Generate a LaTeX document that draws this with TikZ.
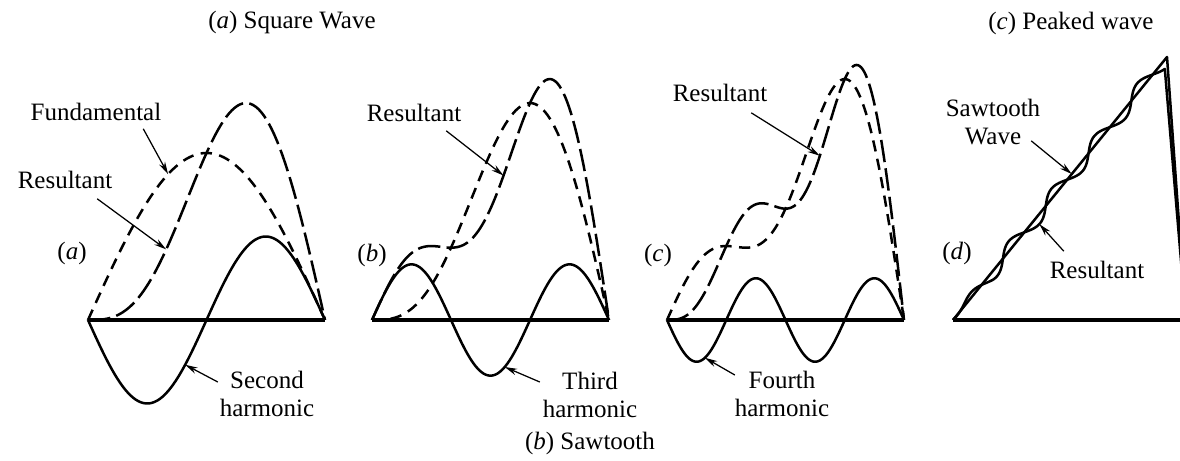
\documentclass[tikz,border=0pt]{standalone}
\usepackage{fontspec}
\setmainfont{Liberation Serif}
\usetikzlibrary{arrows.meta}

\tikzset{
  wave/.style={line width=1pt, line join=round},
  harmonic/.style={wave},
  partwave/.style={wave, dash pattern=on 4.5pt off 3pt},
  sumwave/.style={wave, dash pattern=on 9pt off 2.5pt},
  axisline/.style={line width=1.3pt},
  pointer/.style={line width=0.5pt, -{Stealth[length=5pt,width=2.6pt]}},
  lbl/.style={inner sep=1pt, font=\fontsize{10}{11.2}\selectfont, align=center},
}
\newcommand{\pw}{1.3167}   % px per degree (237 px = 180 deg)
\newcommand{\amp}{167}     % height of the fundamental
\newcommand{\sawwig}{(6.5*min(1,6*\x)*sin(1800*\x-60))}

\begin{document}
\begin{tikzpicture}[x=0.4pt,y=0.4pt]
\clip (0,0) rectangle (1180,460);

% --- titles ---
\node[lbl] (ttlA) at (292,438) {(\textit{a}) Square Wave};
\node[lbl] (ttlC) at (1071,437) {(\textit{c}) Peaked wave};
\node[lbl] (ttlB) at (590,17) {(\textit{b}) Sawtooth};

% --- panel (a): fundamental + second harmonic ---
\begin{scope}[shift={(88,140)}]
  \draw[axisline] (0,0) -- (237,0);
  \draw[harmonic] plot[domain=0:180,samples=90] ({\x*\pw},{-\amp/2*sin(2*\x)});
  \draw[partwave] plot[domain=0:180,samples=90] ({\x*\pw},{\amp*sin(\x)});
  \draw[sumwave] plot[domain=0:180,samples=90] ({\x*\pw},{\amp*(sin(\x)-sin(2*\x)/2)});
  \coordinate (tipFund) at ({0.338*237},{\amp*sin(0.338*180)});
  \coordinate (tipResA) at ({0.33*237},{\amp*(sin(0.33*180)-sin(0.66*180)/2)});
  \coordinate (tipSec) at ({0.41*237},{-\amp/2*sin(0.41*360)});
\end{scope}
\node[lbl] (fund) at (96,348) {Fundamental};
\node[lbl] (resA) at (65,280) {Resultant};
\node[lbl] (tagA) at (72,207) {(\textit{a})};
\node[lbl] (second) at (267,66) {Second\\harmonic};
\draw[pointer] ([shift={(-21,-5)}]fund.south east) -- (tipFund);
\draw[pointer] ([shift={(-18,-7)}]resA.south east) -- (tipResA);
\draw[pointer] ([shift={(1,12)}]second.west) -- (tipSec);

% --- panel (b): third harmonic ---
\begin{scope}[shift={(372,140)}]
  \draw[axisline] (0,0) -- (237,0);
  \draw[harmonic] plot[domain=0:180,samples=120] ({\x*\pw},{\amp/3*sin(3*\x)});
  \draw[partwave] plot[domain=0:180,samples=120] ({\x*\pw},{\amp*(sin(\x)-sin(2*\x)/2)});
  \draw[sumwave] plot[domain=0:180,samples=120] ({\x*\pw},{\amp*(sin(\x)-sin(2*\x)/2+sin(3*\x)/3)});
  \coordinate (tipResB) at ({0.555*237},{\amp*(sin(0.555*180)-sin(0.555*360)/2+sin(0.555*540)/3)});
  \coordinate (tipThird) at ({0.56*237},{\amp/3*sin(0.56*540)});
\end{scope}
\node[lbl] (resB) at (414,347) {Resultant};
\node[lbl] (tagB) at (372,205) {(\textit{b})};
\node[lbl] (third) at (590,65) {Third\\harmonic};
\draw[pointer] ([shift={(-18,-6)}]resB.south east) -- (tipResB);
\draw[pointer] ([shift={(0,13)}]third.west) -- (tipThird);

% --- panel (c): fourth harmonic ---
\begin{scope}[shift={(667,140)}]
  \draw[axisline] (0,0) -- (237,0);
  \draw[harmonic] plot[domain=0:180,samples=150] ({\x*\pw},{-\amp/4*sin(4*\x)});
  \draw[partwave] plot[domain=0:180,samples=150] ({\x*\pw},{\amp*(sin(\x)-sin(2*\x)/2+sin(3*\x)/3)});
  \draw[sumwave] plot[domain=0:180,samples=150] ({\x*\pw},{\amp*(sin(\x)-sin(2*\x)/2+sin(3*\x)/3-sin(4*\x)/4)});
  \coordinate (tipResC) at ({0.645*237},{\amp*(sin(0.645*180)-sin(0.645*360)/2+sin(0.645*540)/3-sin(0.645*720)/4)});
  \coordinate (tipFourth) at ({0.16*237},{-\amp/4*sin(0.16*720)});
\end{scope}
\node[lbl] (resC) at (720,367) {Resultant};
\node[lbl] (tagC) at (658,205) {(\textit{c})};
\node[lbl] (fourth) at (782,66) {Fourth\\harmonic};
\draw[pointer] ([shift={(-19,-8)}]resC.south east) -- (tipResC);
\draw[pointer] ([shift={(3,19)}]fourth.west) -- (tipFourth);

% --- panel (d): sawtooth and its resultant ---
\begin{scope}[shift={(953,140)}]
  \draw[axisline] (0,0) -- (260,0);
  \draw[wave] (0,0) -- (214,263) -- (233,0);
  \draw[wave] plot[domain=0:0.97,samples=200,smooth] ({214*\x-0.776*\sawwig},{263*\x+0.631*\sawwig}) -- (233,0);
  \coordinate (tipSaw) at ({0.555*214},{0.555*263});
  \coordinate (tipResD) at ({0.38*214+0.776*6.5},{0.38*263-0.631*6.5});
\end{scope}
\node[lbl] (sawWave) at (993,338) {Sawtooth\\Wave};
\node[lbl] (tagD) at (957,207) {(\textit{d}\/)};
\node[lbl] (resD) at (1097,190) {Resultant};
\draw[pointer] ([shift={(-12,7)}]sawWave.south east) -- (tipSaw);
\draw[pointer] ([shift={(17,7)}]resD.north west) -- (tipResD);

\end{tikzpicture}
\end{document}
